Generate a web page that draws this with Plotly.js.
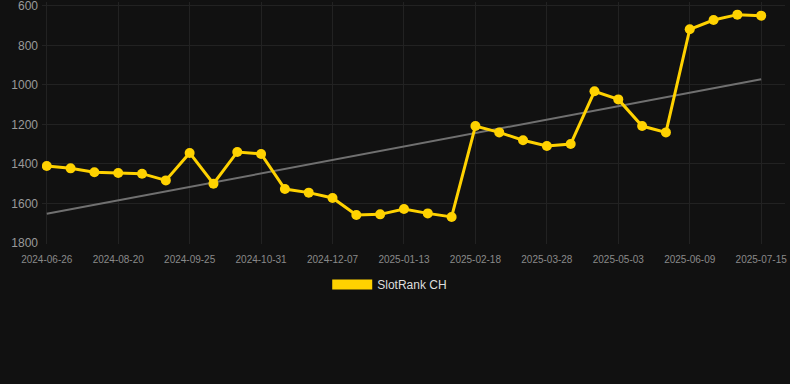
<!DOCTYPE html>
<html>
<head>
<meta charset="utf-8">
<script src="https://cdn.plot.ly/plotly-3.0.1.min.js"></script>
<style>
html,body{margin:0;padding:0;background:#111111;}
#chart{width:790px;height:384px;}
</style>
</head>
<body>
<div id="chart"></div>
<script>
const dates = [
  "2024-06-26","2024-07-14","2024-08-01","2024-08-20","2024-09-01","2024-09-13",
  "2024-09-25","2024-10-07","2024-10-19","2024-10-31","2024-11-12","2024-11-24",
  "2024-12-07","2024-12-19","2024-12-31","2025-01-13","2025-01-25","2025-02-06",
  "2025-02-18","2025-03-02","2025-03-15","2025-03-28","2025-04-09","2025-04-21",
  "2025-05-03","2025-05-15","2025-05-27","2025-06-09","2025-06-21","2025-07-03",
  "2025-07-15"
];
const ranks = [
  1410,1422,1442,1446,1449,1483,1344,1500,1339,1349,1527,1545,
  1572,1658,1655,1628,1650,1668,1208,1240,1280,1309,1299,1032,
  1073,1208,1240,718,671,644,649
];
const tickDates = ["2024-06-26","2024-08-20","2024-09-25","2024-10-31","2024-12-07",
  "2025-01-13","2025-02-18","2025-03-28","2025-05-03","2025-06-09","2025-07-15"];
const yTicks = [600,800,1000,1200,1400,1600,1800];
const seriesName = "SlotRank CH";

// linear trend (least squares over index)
const n = ranks.length;
const idx = ranks.map((_, i) => i);
const mx = idx.reduce((a,b)=>a+b,0)/n;
const my = ranks.reduce((a,b)=>a+b,0)/n;
let sxy=0, sxx=0;
for (let i=0;i<n;i++){ sxy += (i-mx)*(ranks[i]-my); sxx += (i-mx)*(i-mx); }
const slope = sxy/sxx, icpt = my - slope*mx;
const trend = [dates[0], dates[n-1]];
const trendY = [icpt, icpt + slope*(n-1)];

const gold = "#FFD200";
const data = [
  {x: trend, y: trendY, type: "scatter", mode: "lines",
   line: {color: "#707070", width: 2}, showlegend: false, hoverinfo: "skip"},
  {x: dates, y: ranks, type: "scatter", mode: "lines+markers", name: seriesName,
   line: {color: gold, width: 3}, marker: {color: gold, size: 10}, showlegend: false},
  {x: [null], y: [null], type: "scatter", mode: "lines", name: seriesName,
   line: {color: gold, width: 10}, showlegend: true}
];

const layout = {
  width: 790, height: 384,
  paper_bgcolor: "#111111", plot_bgcolor: "#111111",
  margin: {l: 42, r: 5, t: 2, b: 140},
  font: {family: "Liberation Sans, Arial, sans-serif", color: "#999999"},
  xaxis: {
    type: "category", categoryorder: "array", categoryarray: dates,
    range: [-0.2, 31.0],
    tickmode: "array", tickvals: tickDates, ticktext: tickDates,
    tickfont: {size: 10, color: "#8a8a8a"}, ticklabelstandoff: 8,
    ticklabeloverflow: "allow",
    showgrid: true, gridcolor: "#222222", gridwidth: 1,
    zeroline: false, showline: false, ticks: "", ticklen: 0
  },
  yaxis: {
    range: [1805, 580], autorange: false,
    tickmode: "array", tickvals: yTicks, ticktext: yTicks.map(String),
    tickfont: {size: 12, color: "#9a9a9a"}, ticklabelstandoff: 3,
    ticklabeloverflow: "allow",
    showgrid: true, gridcolor: "#222222", gridwidth: 1,
    zeroline: false, showline: false, ticks: "", ticklen: 0
  },
  showlegend: true,
  legend: {orientation: "h", x: 0.468, xanchor: "center", y: -0.107, yanchor: "top",
    font: {size: 12, color: "#dddddd"}, itemwidth: 40, bgcolor: "rgba(0,0,0,0)"}
};

Plotly.newPlot("chart", data, layout, {displayModeBar: false, staticPlot: true});
</script>
</body>
</html>
